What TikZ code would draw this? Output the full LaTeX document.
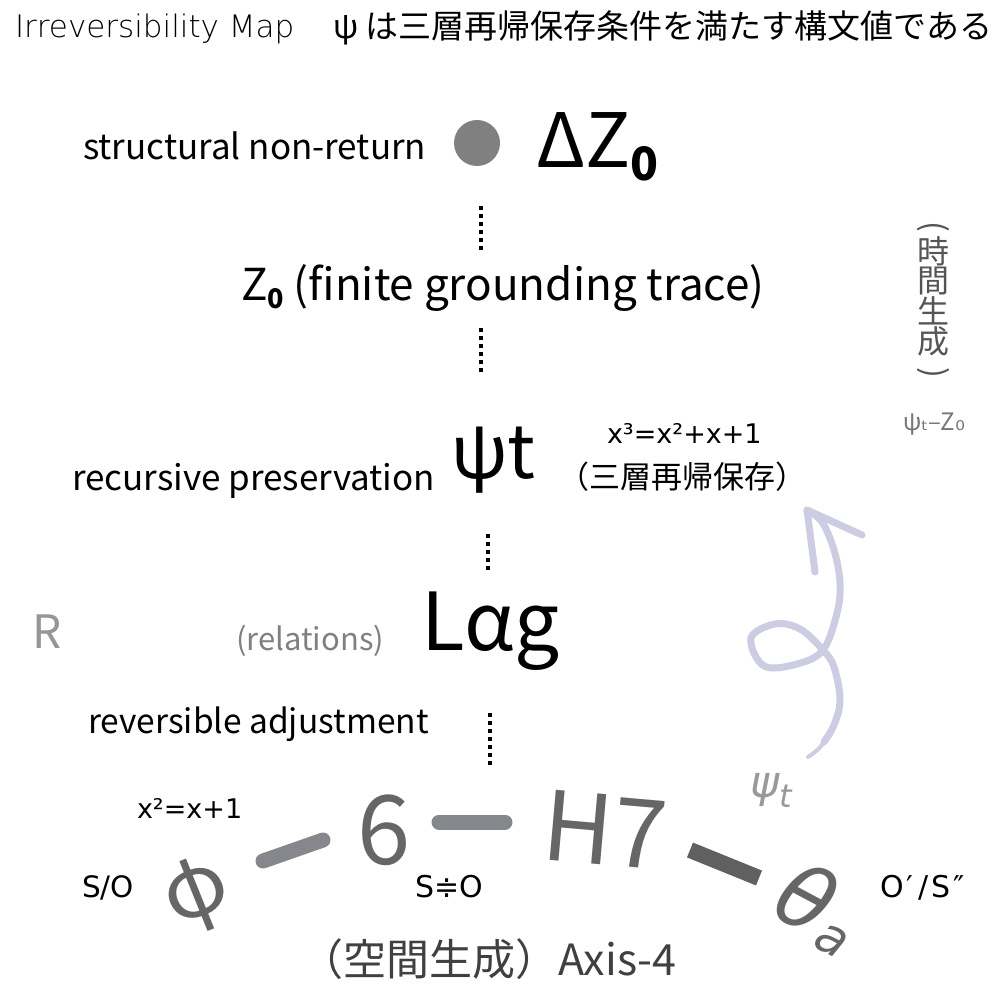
\documentclass[tikz,border=0pt]{standalone}
\usepackage{fontspec}
\usepackage{graphicx}
\setmainfont{Noto Sans CJK JP}
\newfontfamily\djv{DejaVu Sans}
\newfontfamily\djl{DejaVu Sans ExtraLight}
\usetikzlibrary{calc}
\definecolor{lav}{RGB}{204,204,226}
\definecolor{dotgray}{RGB}{128,128,128}
\definecolor{rgray}{RGB}{150,150,150}
\definecolor{relgray}{RGB}{128,128,128}
\definecolor{axgray}{RGB}{64,64,64}
\definecolor{chain}{RGB}{102,102,102}
\definecolor{vgray}{RGB}{85,85,85}
\definecolor{smallgray}{RGB}{119,119,119}
\definecolor{psigray}{RGB}{153,153,153}
\definecolor{linkA}{RGB}{133,135,140}
\definecolor{linkB}{RGB}{96,96,96}
\newcommand\FS[1]{\fontsize{#1}{#1}\selectfont}
\newcommand\subz[2]{\raisebox{-#2pt}{\FS{#1}\bfseries 0}}
\begin{document}
\begin{tikzpicture}[x=1pt,y=-1pt,
  every node/.style={inner sep=0pt,outer sep=0pt},
  lbl/.style={anchor=base west},
  dotline/.style={line width=4pt,dash pattern=on 4pt off 4pt},
  linka/.style={line width=15pt,line cap=round,draw=linkA},
  linkb/.style={line width=16pt,draw=linkB},
  lavline/.style={line width=7pt,draw=lav,line cap=round,line join=round},
  chainnode/.style={text=chain},
  vchar/.style={font=\FS{32},text=vgray}]
\useasboundingbox[fill=white] (0,0) rectangle (1000,1000);

% header
\node[lbl,font=\djl\FS{31}] (title) at (15,38) {Irreversibility Map};
\node[lbl,font=\FS{33}] (jp) at (333,39) {ψ は三層再帰保存条件を満たす構文値である};

% top
\node[lbl,font=\FS{35}] (snr) at (83,160) {structural non-return};
\node[circle,fill=dotgray,minimum size=46pt] (dot) at (477,143) {};
\node[lbl,font=\FS{75}] (dz) at (536,168) {ΔZ\subz{46}{13}};
\coordinate (d1a) at (481,206);
\coordinate (d1b) at (481,250);
\draw[dotline] (d1a) -- (d1b);

\node[lbl,font=\FS{44}] (z0) at (241,300) {Z\subz{27}{8} (finite grounding trace)};
\coordinate (d2a) at (481,328);
\coordinate (d2b) at (481,372);
\draw[dotline] (d2a) -- (d2b);

\node[lbl,font=\FS{35}] (rp) at (72,490) {recursive preservation};
\node[lbl,font=\FS{74}] (psi) at (451,478) {ψt};
\node[lbl,font=\djv\FS{27}] (eq3) at (607,443) {x³=x²+x+1};
\node[lbl,font=\FS{31}] (sansou) at (558,488) {（三層再帰保存）};
\coordinate (d3a) at (488,534);
\coordinate (d3b) at (488,570);
\draw[dotline] (d3a) -- (d3b);

\node[lbl,font=\FS{46},text=rgray] (R) at (32,648) {R};
\node[lbl,font=\FS{31},text=relgray] (rel) at (236,650) {(relations)};
\node[lbl,font=\FS{80}] (lag) at (421,650) {Lαg};

\node[lbl,font=\FS{33.5}] (ra) at (88,733) {reversible adjustment};
\coordinate (d4a) at (490,713);
\coordinate (d4b) at (490,765);
\draw[dotline] (d4a) -- (d4b);

\node[lbl,font=\djv\FS{27}] (eq2) at (137,818) {x²=x+1};
\node[lbl,font=\djv\FS{29.5}] (so) at (82,897) {S/O};
\node[lbl,font=\djv\FS{30}] (seo) at (415,897) {S≑O};
\node[lbl,font=\djv\FS{30}] (os) at (880,897) {O\kern3pt′\kern5pt/\kern3pt S\kern3pt″};
\node[lbl,font=\FS{43},text=axgray] (axis) at (300,975) {（空間生成）Axis-4};

% chain
\node[chainnode,font=\FS{84},rotate=22] (phi) at (197,895) {φ};
\node[chainnode,font=\FS{96}] (six) at (384,830) {6};
\node[chainnode,font=\FS{96},rotate=-5] (h7) at (605,830) {H7};
\node[chainnode,font=\djv\itshape\FS{86},rotate=-28] (theta) at (807,897) {θ};
\node[chainnode,font=\djv\itshape\FS{50},rotate=-28] (suba) at (831,941) {a};

\draw[linka] ($(phi)+(66,-34)$) -- ($(six)+(-61,10)$);
\draw[linka] ($(six)+(55,-8)$) -- ($(h7)+(-100,-8)$);
\draw[linkb] ($(h7)+(85,20)$) -- ($(theta)+(-48,-19)$);

% curly arrow
\coordinate (cs) at (808,757);
\coordinate (tip) at (807,510);
\coordinate (w1) at (815,572);
\coordinate (w2) at (862,535);
\draw[lavline,line width=4pt] (cs) .. controls (818,750) .. (826,740);
\draw[lavline] plot[smooth,tension=0.6] coordinates {(824,742) (834,725) (840,700) (834,667) (823,650) (800,629) (775,624) (751,638) (764,666) (797,664) (823,650) (837,613) (840,583) (834,550) (822,522) (tip)};
\draw[lavline] (w1) -- (tip) -- (w2);
\node[lbl,font=\djv\itshape\FS{44},text=psigray] (psit) at (750,797) {ψ\raisebox{-10pt}{\FS{32}t}};

% vertical text
\node[vchar,rotate=-90] (vp1) at (933,227) {(};
\node[vchar] (v1) at (933,251) {時};
\node[vchar] (v2) at (933,281) {間};
\node[vchar] (v3) at (933,311) {生};
\node[vchar] (v4) at (933,341) {成};
\node[vchar,rotate=-90] (vp2) at (933,373) {)};
\node[lbl,font=\FS{24},text=smallgray] (pz) at (903,430) {ψ{\djv ₜ}–Z{\djv ₀}};
\end{tikzpicture}
\end{document}
